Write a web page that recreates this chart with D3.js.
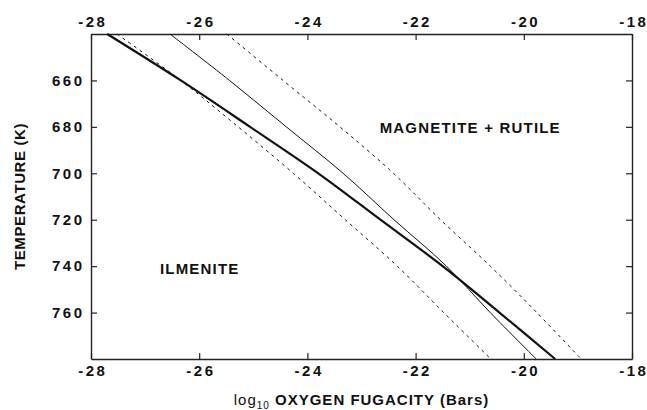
<!DOCTYPE html>
<html><head><meta charset="utf-8">
<script src="https://cdn.jsdelivr.net/npm/d3@7"></script>
<style>
html,body{margin:0;padding:0;background:#fff;}
svg text{font-family:"Liberation Sans",Arial,Helvetica,sans-serif;fill:#111;}
</style></head>
<body><svg id="c" width="647" height="410"></svg>
<script>
// Data (temperature in K, log10 fO2 in bars)
const temps = [640, 660, 680, 700, 720, 740, 760, 780];
const thickLine = [-27.70, -26.34, -25.06, -23.80, -22.65, -21.50, -20.45, -19.42];
const thinLine = [-26.54, -25.44, -24.39, -23.34, -22.40, -21.43, -20.62, -19.77];
const dashLow = [-27.52, -26.34, -25.28, -24.26, -23.30, -22.34, -21.48, -20.61];
const dashHigh = [-25.49, -24.45, -23.40, -22.41, -21.54, -20.62, -19.76, -18.94];
const xTicks = [-28, -26, -24, -22, -20, -18];
const yTicks = [660, 680, 700, 720, 740, 760];
const regionLabels = [
  {text: "MAGNETITE + RUTILE", fo2: -20.99, T: 680.5},
  {text: "ILMENITE", fo2: -25.99, T: 741}
];

const svg = d3.select("#c");
const m = {l: 91, r: 632, t: 34, b: 359};
const x = d3.scaleLinear().domain([-28, -18]).range([m.l, m.r]);
const y = d3.scaleLinear().domain([640, 780]).range([m.t, m.b]);
const fmt = d => (d < 0 ? "-" : "") + Math.abs(d);

function styleAxis(g){
  g.select(".domain").attr("stroke", "#222").attr("stroke-width", 1.4);
  g.selectAll(".tick line").attr("stroke", "#222").attr("stroke-width", 1.2);
  g.selectAll(".tick text").attr("font-size", 15).attr("font-weight", "bold")
    .attr("letter-spacing", 2.5).attr("font-family", null);
}

svg.append("g").attr("transform", `translate(0,${m.b})`)
  .call(d3.axisBottom(x).tickValues(xTicks).tickFormat(fmt).tickSizeInner(-6).tickSizeOuter(0).tickPadding(6))
  .call(styleAxis)
  .call(g => g.selectAll(".tick text").attr("dx", 1.25));
svg.append("g").attr("transform", `translate(0,${m.t})`)
  .call(d3.axisTop(x).tickValues(xTicks).tickFormat(fmt).tickSizeInner(-6).tickSizeOuter(0).tickPadding(7))
  .call(styleAxis)
  .call(g => g.selectAll(".tick text").attr("dx", 1.25));
svg.append("g").attr("transform", `translate(${m.l},0)`)
  .call(d3.axisLeft(y).tickValues(yTicks).tickSizeInner(-6).tickSizeOuter(0).tickPadding(6.5))
  .call(styleAxis);
svg.append("g").attr("transform", `translate(${m.r},0)`)
  .call(d3.axisRight(y).tickValues(yTicks).tickFormat("").tickSizeInner(-6).tickSizeOuter(0))
  .call(styleAxis);

const line = d3.line().x(d => x(d[0])).y(d => y(d[1])).curve(d3.curveCatmullRom.alpha(0.5));
const series = [
  {v: dashLow, w: 1, dash: "3,4"},
  {v: dashHigh, w: 1, dash: "3,4"},
  {v: thinLine, w: 1, dash: null},
  {v: thickLine, w: 2.2, dash: null}
];
const plot = svg.append("g");
series.forEach(s => {
  plot.append("path").datum(s.v.map((v, i) => [v, temps[i]]))
    .attr("d", line).attr("fill", "none").attr("stroke", "#111")
    .attr("stroke-width", s.w).attr("stroke-dasharray", s.dash);
});

regionLabels.forEach(r => {
  svg.append("text").attr("x", x(r.fo2)).attr("y", y(r.T)).attr("dy", "0.36em")
    .attr("text-anchor", "middle").attr("font-size", 15).attr("font-weight", "bold")
    .attr("letter-spacing", 1.2).text(r.text);
});

// axis titles
const xt = svg.append("text").attr("x", (m.l + m.r) / 2).attr("y", 405)
  .attr("text-anchor", "middle").attr("font-size", 15).attr("font-weight", "bold").attr("letter-spacing", 1.0);
xt.append("tspan").attr("font-weight", "normal").text("log");
xt.append("tspan").attr("font-size", 10).attr("dy", 4).attr("font-weight", "normal").text("10");
xt.append("tspan").attr("dy", -4).text(" OXYGEN FUGACITY (Bars)");

svg.append("text").attr("transform", `translate(25,${(m.t + m.b) / 2}) rotate(-90)`)
  .attr("text-anchor", "middle").attr("font-size", 15).attr("font-weight", "bold")
  .attr("letter-spacing", 0.6).text("TEMPERATURE (K)");
</script></body></html>
